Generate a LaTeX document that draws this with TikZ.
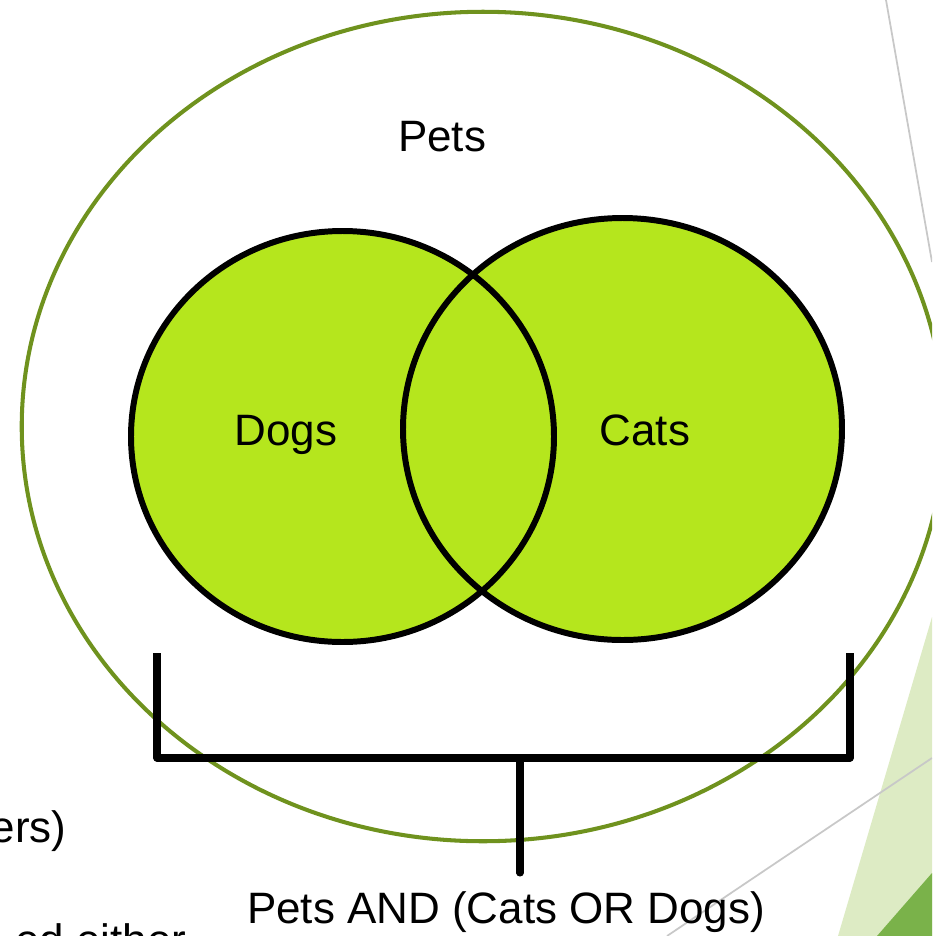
\documentclass[tikz,border=0pt]{standalone}
\usepackage{fontspec}
\setmainfont{Liberation Sans}
\usepackage{tikz}
\usetikzlibrary{shapes.geometric}

\definecolor{setgreen}{HTML}{B5E61D}
\definecolor{petsgreen}{HTML}{6F921E}
\definecolor{decolight}{HTML}{DDEBC4}
\definecolor{decodark}{HTML}{7AB24A}
\definecolor{decogray}{HTML}{C8C8C8}

\tikzset{
  setshape/.style={ellipse, inner sep=0pt, outer sep=0pt},
  setedge/.style={draw=black, line width=1.7pt},
  bracket/.style={draw=black, line width=2pt, line join=round},
  lbl/.style={inner sep=0pt, font=\fontsize{12.5pt}{15pt}\selectfont}
}

\begin{document}
\begin{tikzpicture}[x=0.01cm,y=-0.01cm]
        \useasboundingbox (0,0) rectangle (932,936);
        \clip (0,0) rectangle (932,936);
        % slide background bits
        \fill[decolight] (838,936) -- (932,617) -- (932,936) -- cycle;
        \fill[decodark] (877,936) -- (932,873) -- (932,936) -- cycle;
        \draw[decogray, line width=0.5pt] (667,936) -- (932,758);
        \draw[decogray, line width=0.5pt] (886,0) -- (932,262);
        \node[lbl, anchor=base east] (restA) at (67,842) {ers)};
        \node[lbl, anchor=base east] (restB) at (187,955) {ed either};
        % the sets
        \node[setshape, draw=petsgreen, line width=1.15pt,
              minimum width=9.22cm, minimum height=8.29cm] (pets) at (483,426.5) {};
        \node[setshape, fill=setgreen, minimum width=4.23cm, minimum height=4.11cm] (dogs) at (342.5,436.5) {};
        \node[setshape, fill=setgreen, minimum width=4.39cm, minimum height=4.22cm] (cats) at (622.5,429) {};
        \draw[setedge] (dogs.center) ellipse [x radius=211.5, y radius=205.5];
        \draw[setedge] (cats.center) ellipse [x radius=219.5, y radius=211];
        \node[lbl, anchor=base] (petslbl) at (442,151) {Pets};
        \node[lbl, anchor=base] (dogslbl) at (286,445) {Dogs};
        \node[lbl, anchor=base] (catslbl) at (645,445) {Cats};
        % bracket under both sets
        \coordinate (bracketL) at (157,653);
        \coordinate (bracketR) at (850,653);
        \coordinate (stemtop) at (520,758);
        \coordinate (stemend) at (520,873);
        \draw[bracket] (bracketL) |- (stemtop) -| (bracketR);
        \draw[bracket, line cap=round] (stemtop) -- (stemend);
        \node[lbl, anchor=base] (result) at (506,923) {Pets AND (Cats OR Dogs)};
\end{tikzpicture}
\end{document}
